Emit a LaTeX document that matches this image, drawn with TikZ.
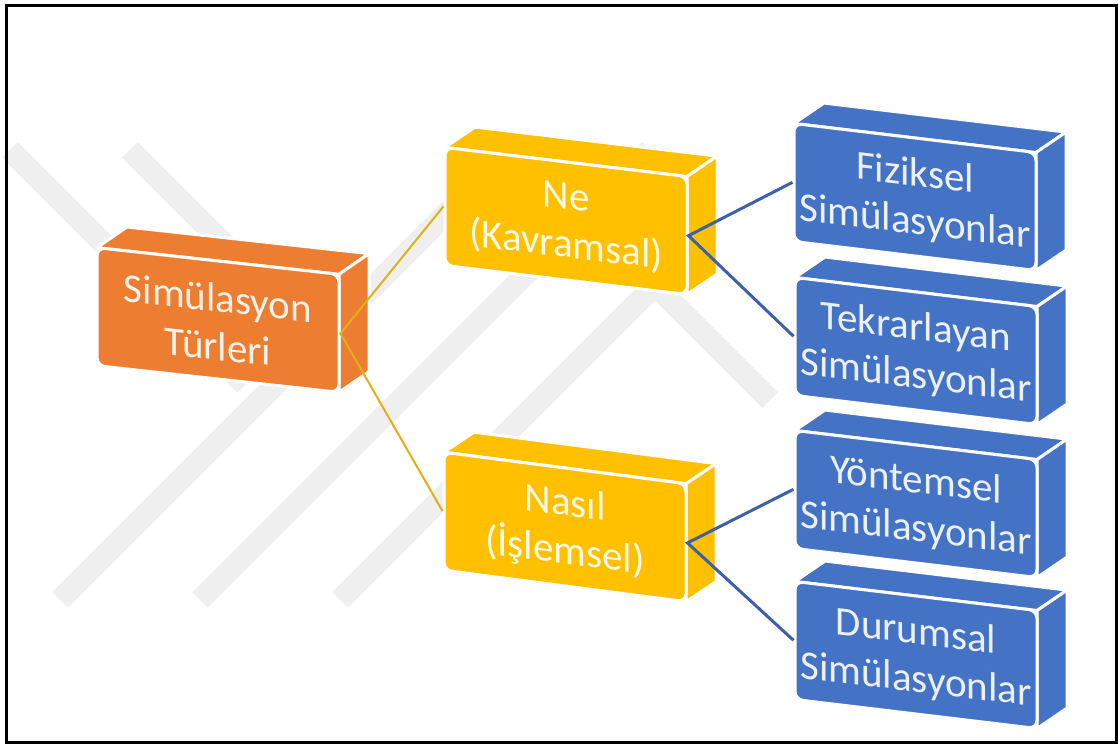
\documentclass[tikz,border=0pt]{standalone}
\usepackage{fontspec}
\setmainfont{Carlito}
\usepackage{tikz}
\usetikzlibrary{positioning,calc}
\definecolor{BrickOrange}{RGB}{237, 125, 49}
\definecolor{BrickYellow}{RGB}{255, 192, 0}
\definecolor{BrickBlue}{RGB}{68, 114, 196}
\definecolor{LinkYellow}{RGB}{226, 176, 20}
\definecolor{LinkBlue}{RGB}{60, 96, 170}
\definecolor{Watermark}{RGB}{239, 239, 239}

\tikzset{
  brickside/.style={draw=white, line width=1.5pt, line join=round},
  brickface/.style={draw=white, line width=1.5pt, rounded corners=4pt,
    minimum width=121pt, minimum height=59pt, transform shape},
  bricktext/.style={align=center, inner sep=0pt, transform shape,
    font=\fontsize{20.5}{24}\selectfont},
  wmband/.style={Watermark, line width=11pt}
}

% one 3D brick: name, centre, colour, slope, text
\newcommand{\brickbox}[5]{%
  \begin{scope}[cm={1,#4,0,1,(#2)}]
    \filldraw[brickside, fill=#3] (-121,-59) -- ++(30,-24) -- ++(242,0) -- ++(-30,24) -- cycle;
    \filldraw[brickside, fill=#3] (121,-59) -- ++(30,-24) -- ++(0,118) -- ++(-30,24) -- cycle;
    \node[brickface, fill=#3] (#1) at (0,0) {};
    \node[bricktext, text=#3!10!white] (#1-text) at (0,2) {#5};
  \end{scope}}

\begin{document}
\begin{tikzpicture}[x=0.5pt, y=-0.5pt]
  \useasboundingbox (0,0) rectangle (1118,747);

  % Watermark
  \draw[wmband] (10,150) -- (245,385);
  \draw[wmband] (130,150) -- (330,350);
  \draw[wmband] (60,600) -- (510,150);
  \draw[wmband] (200,600) -- (650,150);
  \draw[wmband] (340,600) -- (700,240);
  \draw[wmband] (560,190) -- (770,400);

  % Bricks
  \brickbox{turler}{218,320}{BrickOrange}{-0.11}{Simülasyon\\Türleri}
  \brickbox{ne}{566,221}{BrickYellow}{-0.12}{Ne\\(Kavramsal)}
  \brickbox{nasil}{565,527}{BrickYellow}{-0.13}{Nasıl\\(İşlemsel)}
  \brickbox{fiziksel}{915,197}{BrickBlue}{-0.12}{Fiziksel\\Simülasyonlar}
  \brickbox{tekrar}{916,351}{BrickBlue}{-0.12}{Tekrarlayan\\Simülasyonlar}
  \brickbox{yontem}{916,504}{BrickBlue}{-0.12}{Yöntemsel\\Simülasyonlar}
  \brickbox{durum}{916,655}{BrickBlue}{-0.12}{Durumsal\\Simülasyonlar}

  % Links
  \draw[LinkYellow, line width=1pt] (ne.west) -- (turler.east) -- (nasil.west);
  \draw[LinkBlue, line width=1.5pt] (fiziksel.west) -- (ne.east) -- (tekrar.west);
  \draw[LinkBlue, line width=1.5pt] (yontem.west) -- (nasil.east) -- (durum.west);

  % Frame
  \draw[line width=1.5pt] (6,6) rectangle (1116,742);
\end{tikzpicture}
\end{document}
